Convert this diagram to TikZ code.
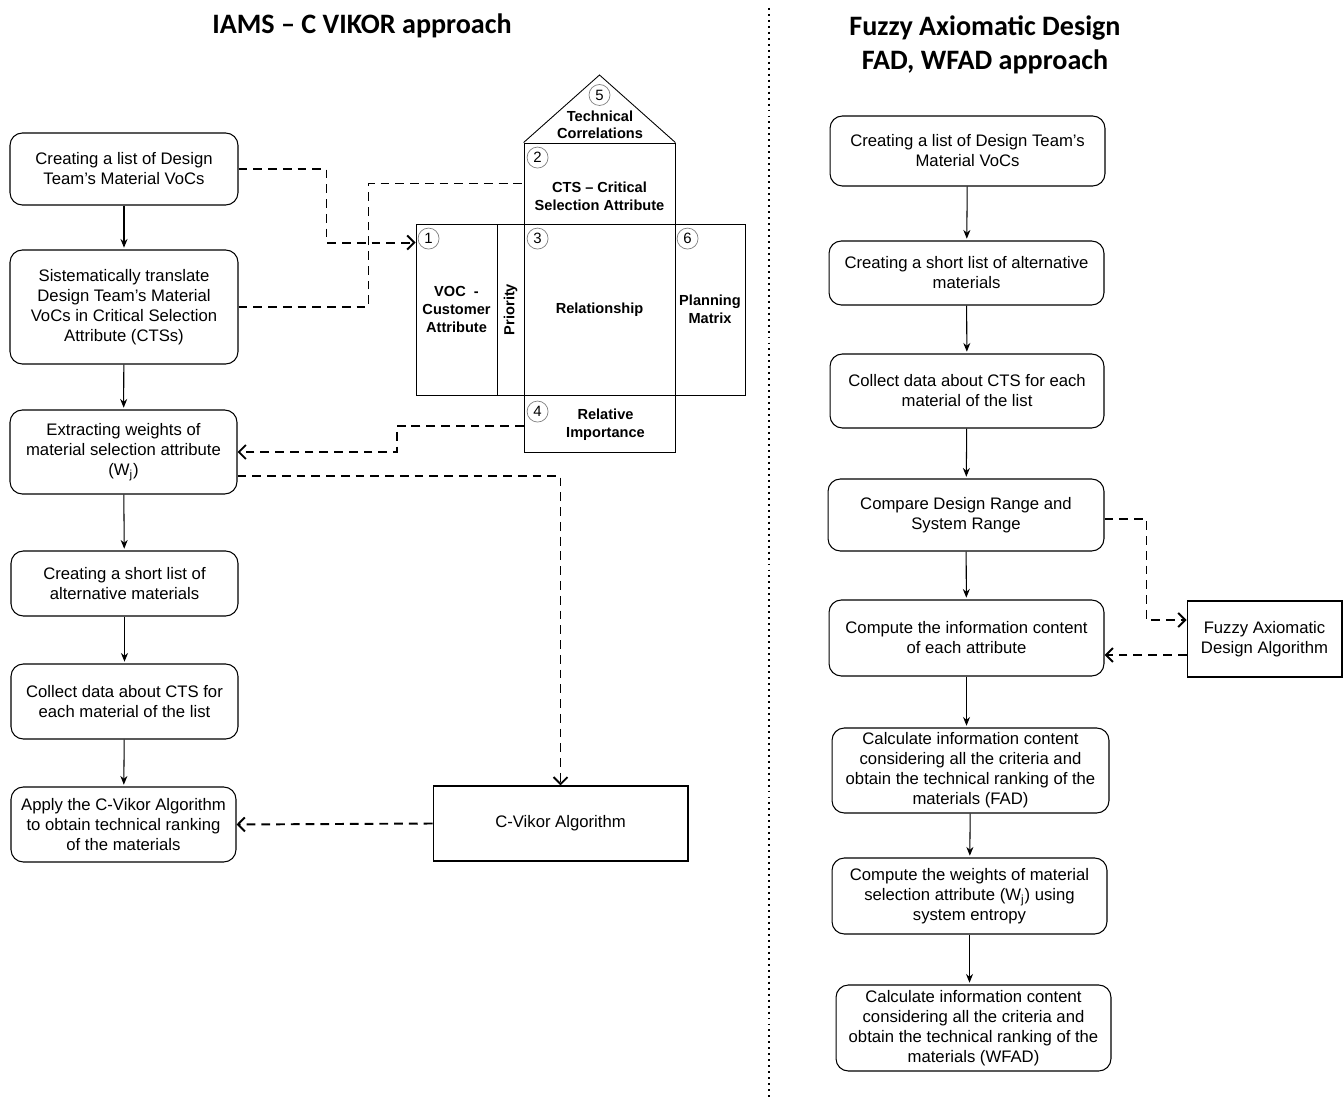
\documentclass[tikz,border=0pt]{standalone}
\usepackage{fontspec}
\setmainfont{Liberation Sans}
\newfontfamily\titlefont{Carlito}
\usetikzlibrary{arrows.meta, positioning, calc}

\begin{document}
\begin{tikzpicture}[x=0.02cm, y=-0.02cm,
    procbox/.style={rectangle, rounded corners=7pt, draw, line width=0.6pt,
                  align=center, inner sep=1pt, font=\fontsize{9.5}{11.4}\selectfont},
    algobox/.style={rectangle, draw, line width=0.6pt, align=center,
                  inner sep=1pt, font=\fontsize{9.5}{11.4}\selectfont},
    hpart/.style={rectangle, draw, line width=0.5pt, inner sep=0pt},
    hlabel/.style={align=center, inner sep=0pt, font=\fontsize{8.3}{10}\bfseries\selectfont},
    num/.style={circle, draw=gray, line width=0.4pt, minimum size=0.42cm,
                  inner sep=0pt, font=\fontsize{8.5}{10}\selectfont},
    flow/.style={-{Stealth[length=5pt,width=4pt]}, line width=0.6pt, shorten >=1pt},
    link/.style={dash pattern=on 5pt off 3.4pt, line width=1.1pt},
    linkarrow/.style={link, -{Straight Barb[length=4pt,width=8pt]}},
    title/.style={align=center, font=\titlefont\fontsize{16}{19.3}\bfseries\selectfont}]

    \useasboundingbox (0,0) rectangle (1344,1097);

    % Titles
    \node[title] (tleft) at (362,26) {IAMS – C VIKOR approach};
    \node[title] (tright) at (985,45) {Fuzzy Axiomatic Design\\FAD, WFAD approach};

    % Divider
    \draw[line width=1.1pt, dash pattern=on 1.1pt off 2.3pt] (769,8) -- (769,1097);

    % Left column
    \node[procbox, minimum width=4.56cm, minimum height=1.44cm] (b1) at (124,169)
        {Creating a list of Design\\Team’s Material VoCs};
    \node[procbox, minimum width=4.56cm, minimum height=2.28cm] (b2) at (124,307)
        {Sistematically translate\\Design Team’s Material\\VoCs in Critical Selection\\Attribute (CTSs)};
    \node[procbox, minimum width=4.54cm, minimum height=1.68cm] (b3) at (123.5,452)
        {Extracting weights of\\material selection attribute\\(W\textsubscript{j})};
    \node[procbox, minimum width=4.54cm, minimum height=1.3cm] (b4) at (124.5,583.5)
        {Creating a short list of\\alternative materials};
    \node[procbox, minimum width=4.54cm, minimum height=1.5cm] (b5) at (124.5,701.5)
        {Collect data about CTS for\\each material of the list};
    \node[procbox, minimum width=4.5cm, minimum height=1.5cm] (b6) at (123.5,824.5)
        {Apply the C-Vikor Algorithm\\to obtain technical ranking\\of the materials};
    \node[algobox, minimum width=5.1cm, minimum height=1.5cm] (cvikor) at (560.5,823.5)
        {C-Vikor Algorithm};

    % House of quality
    \node[hpart, minimum width=3.02cm, minimum height=1.62cm] (cts) at (599.5,183.5) {};
    \node[hpart, minimum width=1.62cm, minimum height=3.42cm] (voc) at (456.5,309.5) {};
    \node[hpart, minimum width=0.54cm, minimum height=3.42cm] (prio) at (510.5,309.5) {};
    \node[hpart, minimum width=3.02cm, minimum height=3.42cm] (rel) at (599.5,309.5) {};
    \node[hpart, minimum width=1.4cm, minimum height=3.42cm] (plan) at (710,309.5) {};
    \node[hpart, minimum width=3.02cm, minimum height=1.14cm] (relimp) at (599.5,423.5) {};
    \coordinate (apex) at (599.5,75);
    \draw[line width=0.5pt] (cts.north west) -- (apex) -- (cts.north east);

    \node[hlabel] (ltc) at (600,125) {Technical\\Correlations};
    \node[hlabel] (lcts) at ($(cts.center)+(0,13)$) {CTS – Critical\\Selection Attribute};
    \node[hlabel] (lvoc) at (voc.center) {VOC \ -\\Customer\\Attribute};
    \node[hlabel, rotate=90] (lprio) at (prio.center) {Priority};
    \node[hlabel] (lrel) at (rel.center) {Relationship};
    \node[hlabel] (lplan) at (plan.center) {Planning\\Matrix};
    \node[hlabel] (lrelimp) at ($(relimp.center)+(6,1)$) {Relative\\Importance};

    \node[num] (n1) at ($(voc.north west)+(13,15)$) {1};
    \node[num] (n2) at ($(cts.north west)+(14,15)$) {2};
    \node[num] (n3) at ($(rel.north west)+(14,15)$) {3};
    \node[num] (n4) at ($(relimp.north west)+(14,17)$) {4};
    \node[num] (n5) at (599.5,95) {5};
    \node[num] (n6) at ($(plan.north west)+(13,15)$) {6};

    % Right column
    \node[procbox, minimum width=5.5cm, minimum height=1.4cm] (r1) at (967.5,151)
        {Creating a list of Design Team’s\\Material VoCs};
    \node[procbox, minimum width=5.5cm, minimum height=1.28cm] (r2) at (966.5,273)
        {Creating a short list of alternative\\materials};
    \node[procbox, minimum width=5.48cm, minimum height=1.48cm] (r3) at (967,391)
        {Collect data about CTS for each\\material of the list};
    \node[procbox, minimum width=5.52cm, minimum height=1.44cm] (r4) at (966,515)
        {Compare Design Range and\\System Range};
    \node[procbox, minimum width=5.5cm, minimum height=1.52cm] (r5) at (966.5,638)
        {Compute the information content\\of each attribute};
    \node[procbox, minimum width=5.54cm, minimum height=1.7cm] (r6) at (970.5,770.5)
        {Calculate information content\\considering all the criteria and\\obtain the technical ranking of the\\materials (FAD)};
    \node[procbox, minimum width=5.5cm, minimum height=1.52cm] (r7) at (969.5,896)
        {Compute the weights of material\\selection attribute (W\textsubscript{j}) using\\system entropy};
    \node[procbox, minimum width=5.5cm, minimum height=1.72cm] (r8) at (973.5,1028)
        {Calculate information content\\considering all the criteria and\\obtain the technical ranking of the\\materials (WFAD)};
    \node[algobox, minimum width=3.1cm, minimum height=1.52cm] (fada) at (1264.5,639)
        {Fuzzy Axiomatic\\Design Algorithm};

    % Arrows
    \draw[flow] (b1) -- (b2);
    \draw[flow] (b2) -- (b3);
    \draw[flow] (b3) -- (b4);
    \draw[flow] (b4) -- (b5);
    \draw[flow] (b5) -- (b6);

    \draw[flow] (r1) -- (r2);
    \draw[flow] (r2) -- (r3);
    \draw[flow] (r3) -- (r4);
    \draw[flow] (r4) -- (r5);
    \draw[flow] (r5.south) -- (r5.south |- r6.north);
    \draw[flow] (r6) -- (r7);
    \draw[flow] (r7.south) -- (r7.south |- r8.north);

    % Dashed links
    \draw[linkarrow] (b1.east) -- ++(88,0) |- ($(voc.north west)+(0,19)$);
    \draw[link] (b2.east) -- ++(130,0) |- (cts.west);
    \draw[linkarrow] ([yshift=-0.05cm]relimp.west) -- ++(-127,0) |- (b3.east);
    \draw[linkarrow] ([yshift=-0.48cm]b3.east) -| (cvikor.north);
    \draw[linkarrow] (cvikor.west) -- (b6.east);
    \draw[linkarrow] ([yshift=-0.08cm]r4.east) -- ++(42,0) |- ([yshift=0.38cm]fada.west);
    \draw[linkarrow] ([yshift=-0.32cm]fada.west) -- ([yshift=-0.32cm]fada.west -| r5.east);
\end{tikzpicture}
\end{document}
